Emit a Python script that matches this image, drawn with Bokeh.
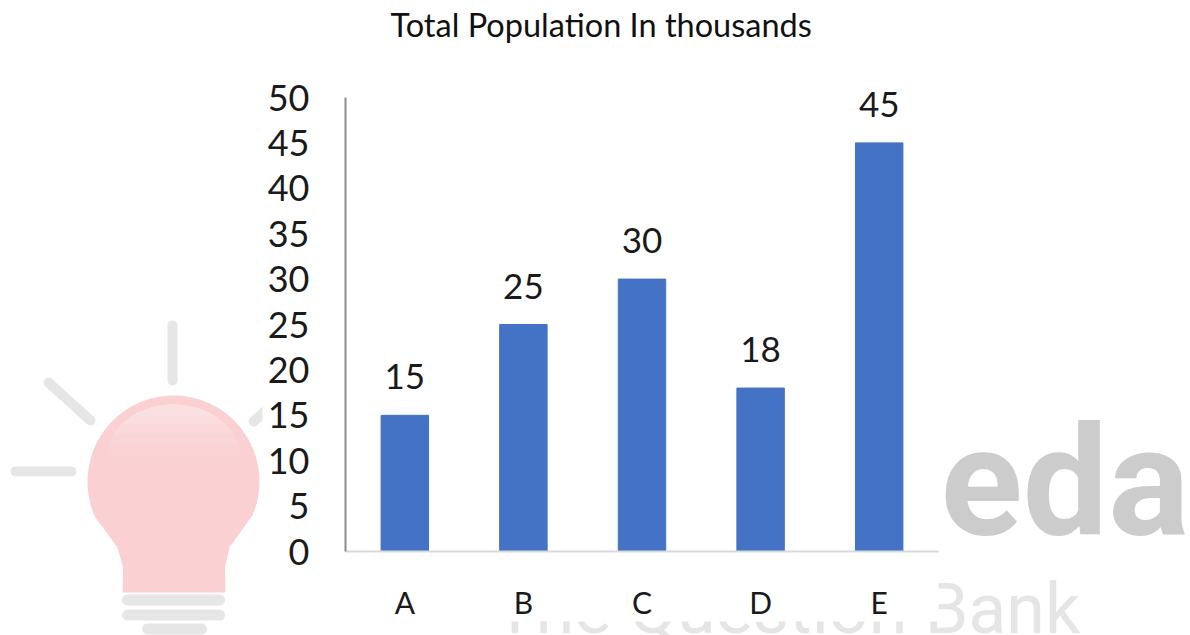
import numpy as np
from bokeh.embed import file_html
from bokeh.resources import INLINE
from bokeh.plotting import figure
from bokeh.models import ColumnDataSource, FixedTicker, Label, PolyAnnotation, Range1d
from bokeh.core.properties import value

categories = ["A", "B", "C", "D", "E"]
population = [15, 25, 30, 18, 45]
y_ticks = [0, 5, 10, 15, 20, 25, 30, 35, 40, 45, 50]
title_text = "Total Population In thousands"

W, H = 1190, 635
FONT = "Lato"
# the frame fills the page so that the watermark can show everywhere behind the chart
AX_L, AX_R, AX_B, AX_T, FR_T = 345, 938, 551, 97, 44
ux = (AX_R - AX_L) / len(categories)
uy = (AX_B - AX_T) / 50
x_range = Range1d(-0.5 - AX_L / ux, len(categories) - 0.5 + (W - AX_R) / ux)
y_range = Range1d(-(H - AX_B) / uy, (AX_B - FR_T) / uy)

p = figure(x_range=x_range, y_range=y_range, width=W, height=H,
           output_backend="svg", toolbar_location=None,
           min_border_left=0, min_border_right=0, min_border_top=FR_T, min_border_bottom=0)
p.outline_line_color = None
p.grid.visible = False
p.background_fill_color = None
p.border_fill_color = None

p.title.text = title_text
p.title.text_font = FONT
p.title.text_font_size = "32.5px"
p.title.text_font_style = "normal"
p.title.text_color = "#111111"
p.title.align = "left"
p.title.offset = 390
p.title.standoff = 2

# ---- watermark, behind the chart ----
def poly(xs, ys, **kw):
    kw.setdefault("line_color", None)
    kw.setdefault("level", "underlay")
    p.add_layout(PolyAnnotation(xs=list(xs), ys=list(ys), xs_units="canvas", ys_units="canvas", **kw))

def bar_line(x0, y0, x1, y1, w, color="#e6e6e6"):
    poly([x0, x1], [y0, y1], fill_color=None, line_color=color, line_width=w,
         line_join="round", line_cap="round", line_alpha=1.0)

bar_line(172, 325, 172, 380, 10)
bar_line(15, 471, 71, 471, 10)
bar_line(48, 382, 90, 420, 10)
bar_line(253, 421, 285, 392, 10)
bar_line(127, 599.5, 219, 599.5, 11)
bar_line(127, 614.5, 219, 614.5, 11)
bar_line(147, 628.5, 201, 628.5, 11)

t = np.radians(np.arange(205, -26, -4))
bx = list(173 + 86 * np.cos(t))
by = list(481 - 86 * np.sin(t))
bx = bx + [229, 224.5, 225, 122, 122.5, 117]
by = by + [547, 567, 592, 592, 567, 547]
poly(bx, by, fill_color="#fad0d2", fill_alpha=1.0)

# soft highlight at the top of the bulb, fading downwards
t2 = np.radians(np.arange(0, 181, 4))
hx = 173 + 68 * np.cos(t2)
hy = 460 - 56 * np.sin(t2)
bands = [(457, "#fad2d4"), (447, "#fad5d7"), (437, "#fbd9db"), (427, "#fbdddf"), (417, "#fbe0e2")]
for limit, colour in bands:
    keep = hy <= limit
    poly(hx[keep], hy[keep], fill_color=colour, fill_alpha=1.0)

for txt, x, y, size, weight, col in [
    ("eda", 1189, 482, 152, "bold", "#cccccc"),
    ("The Question Bank", 1080, 608, 70, "normal", "#e5e5e5"),
]:
    p.add_layout(Label(x=x, y=y, x_units="canvas", y_units="canvas", text=txt,
                       text_font="Roboto", text_font_size=f"{size}px", text_font_style=weight,
                       text_color=col, text_align="right", text_baseline="alphabetic",
                       level="underlay"))

# white panel of the chart picture that hides the watermark
poly([262, 938, 938, 262], [60, 60, 621, 621], fill_color="#ffffff", fill_alpha=1.0)

# ---- chart ----
pos = list(range(len(categories)))
src = ColumnDataSource(dict(x=pos, val=population, lab=[str(v) for v in population]))
p.vbar(x="x", top="val", width=0.4, bottom=0, source=src, color="#4472c4")
p.text(x="x", y="val", text="lab", source=src, text_align="center", text_baseline="bottom",
       y_offset=-26, text_font=value(FONT), text_font_size="35px", text_color="#1a1a1a")

ax = p.yaxis[0]
ax.fixed_location = -0.5
ax.bounds = (0, 50)
ax.ticker = FixedTicker(ticks=y_ticks)
ax.major_tick_line_color = None
ax.minor_tick_line_color = None
ax.axis_line_color = "#8c8c8c"
ax.axis_line_width = 2
ax.major_label_standoff = 30
ax.major_label_text_font = FONT
ax.major_label_text_font_size = "36px"
ax.major_label_text_color = "#1a1a1a"

bx_ax = p.xaxis[0]
bx_ax.fixed_location = 0
bx_ax.bounds = (-0.5, len(categories) - 0.5)
bx_ax.ticker = FixedTicker(ticks=pos)
bx_ax.major_label_overrides = dict(zip(pos, categories))
bx_ax.major_tick_line_color = None
bx_ax.minor_tick_line_color = None
bx_ax.axis_line_color = "#d9d9d9"
bx_ax.axis_line_width = 2
bx_ax.major_label_standoff = 26
bx_ax.major_label_text_font = FONT
bx_ax.major_label_text_font_size = "30px"
bx_ax.major_label_text_color = "#1a1a1a"

open("out.html", "w").write(file_html(p, INLINE))
